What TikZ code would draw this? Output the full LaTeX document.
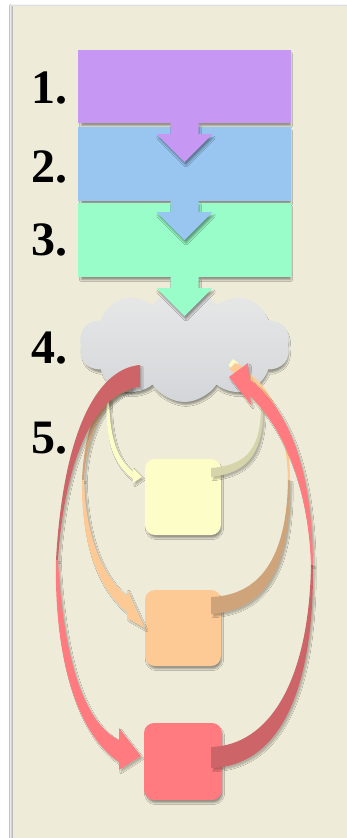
\documentclass[tikz,border=0pt]{standalone}
\usepackage{fontspec}
\setmainfont{Liberation Serif}
\usetikzlibrary{shapes.symbols,shadows.blur,calc}
\definecolor{bgbeige}{HTML}{EEEBD8}
\definecolor{cpurple}{HTML}{C697F3}
\definecolor{cblue}{HTML}{98C6F1}
\definecolor{cgreen}{HTML}{98FDC8}
\definecolor{cyel}{HTML}{FDFDC8}
\definecolor{cyeldk}{HTML}{D6D4AA}
\definecolor{corg}{HTML}{FDCA96}
\definecolor{corgdk}{HTML}{CFA47A}
\definecolor{cred}{HTML}{FF7B7F}
\definecolor{creddk}{HTML}{CC6468}
\definecolor{cloudtop}{HTML}{E8E8E8}
\definecolor{cloudbot}{HTML}{D3D6D9}
\tikzset{
  shd/.style={blur shadow={shadow xshift=1.5pt, shadow yshift=-3.5pt, shadow blur radius=1.8pt, shadow scale=0.985, shadow opacity=38}},
  shdsm/.style={blur shadow={shadow xshift=2pt, shadow yshift=-2.5pt, shadow blur radius=1.2pt, shadow opacity=25}},
  bigbox/.style={rectangle, inner sep=0pt, minimum width=213pt, shd},
  smallbox/.style={rectangle, rounded corners=10pt, inner sep=0pt, minimum width=76pt, minimum height=76pt, shd},
  lbl/.style={anchor=base west, inner sep=0pt, font=\fontsize{48}{48}\selectfont\bfseries},
}
\newcommand\dnarrow[2]{%
  \fill[#2, shd] ($(#1.south)+(-14,0)$) -- ($(#1.south)+(-14,11)$) -- ($(#1.south)+(-28,11)$)
    -- ($(#1.south)+(0,39)$) -- ($(#1.south)+(28,11)$) -- ($(#1.south)+(14,11)$)
    -- ($(#1.south)+(14,0)$) -- cycle;}
\begin{document}
\begin{tikzpicture}[x=1pt,y=-1pt]
\useasboundingbox (0,0) rectangle (347,838);
\fill[white] (0,0) rectangle (347,838);
\fill[bgbeige, blur shadow={shadow xshift=-1.5pt, shadow yshift=0pt, shadow blur radius=2pt, shadow opacity=35}] (13,6) rectangle (352,845);

% stacked boxes
\node[bigbox, fill=cpurple, minimum height=73pt] (b1) at (184.5,86.5) {};
\node[bigbox, fill=cblue, minimum height=74pt] (b2) at (184.5,164) {};
\dnarrow{b1}{cpurple}
\node[bigbox, fill=cgreen, minimum height=74pt] (b3) at (184.5,240) {};
\dnarrow{b2}{cblue}

% cloud
\node[cloud, cloud puffs=10, cloud puff arc=115, aspect=1.85, cloud ignores aspect,
      minimum width=211pt, minimum height=114pt, inner sep=0pt,
      top color=cloudtop, bottom color=cloudbot, shd] (cl) at (184.5,345) {};
\dnarrow{b3}{cgreen}

% labels
\node[lbl] (l1) at (31,103) {1.};
\node[lbl] (l2) at (31,182) {2.};
\node[lbl] (l3) at (31,255) {3.};
\node[lbl] (l4) at (31,363) {4.};
\node[lbl] (l5) at (31,453) {5.};

% small boxes
\node[smallbox, fill=cyel] (y1) at (183,497) {};
\node[smallbox, fill=corg] (o1) at (183,628) {};
\node[smallbox, fill=cred, minimum width=78pt, minimum height=77pt] (r1) at (183,761.5) {};

% orange ribbons
\fill[corgdk, shdsm] (132,373) .. controls (100,385) and (84,430) .. (82,480)
  -- (84,480) .. controls (86,435) and (105,395) .. (132,390) -- cycle;
\fill[corg, shdsm] (82,480) .. controls (81,545) and (98,588) .. (127,612)
  -- (127,618) -- (o1.west) -- (127,589) -- (127,596)
  .. controls (104,578) and (86,540) .. (84,480) -- cycle;
\fill[corgdk, shdsm] ($(o1.east)+(-10,-14)$) .. controls (270,610) and (291,560) .. (290,480)
  -- (288,480) .. controls (287,550) and (265,595) .. ($(o1.east)+(-10,-31)$) -- cycle;
\fill[corg] (288,480) .. controls (287,430) and (272,400) .. (245,382)
  -- (247,372) .. controls (276,392) and (290,430) .. (290,480) -- cycle;

% yellow ribbons
\fill[cyel, shdsm] (107,398) .. controls (105,440) and (112,462) .. (133,479)
  -- (133,483) -- ($(y1.west)+(-3,-20)$) -- (132,467) -- (133,472)
  .. controls (117,458) and (110,440) .. (109,398) -- cycle;
\fill[cyeldk, shdsm] ($(y1.east)+(-10,-20)$) .. controls (252,472) and (263,450) .. (263,405)
  -- (261,405) .. controls (261,445) and (250,465) .. ($(y1.east)+(-10,-29)$) -- cycle;

% red ribbons
\fill[creddk, shdsm] (140,365) .. controls (102,368) and (64,420) .. (56,560)
  -- (58,560) .. controls (66,440) and (104,390) .. (140,387) -- cycle;
\fill[cred, shdsm] (56,560) .. controls (54,660) and (78,735) .. (119,762)
  -- (119,770) -- ($(r1.west)+(-3,-5.5)$) -- (119,728) -- (119,740)
  .. controls (88,725) and (64,670) .. (58,560) -- cycle;
\fill[creddk, shdsm] (313,565) .. controls (314,690) and (280,766) .. ($(r1.east)+(-11,6.5)$)
  -- ($(r1.east)+(-11,-14.5)$) .. controls (270,745) and (309,680) .. (311,565) -- cycle;
% arrow ends at the cloud
\fill[cyel] (228.5,365) -- (233,359) -- (238,363) -- (232,369) -- cycle;
\fill[corg] (229.5,369) -- (235,363) -- (242,366) -- (236,375) -- cycle;
\fill[cred, shdsm] (311,565) .. controls (308,480) and (280,425) .. (250,396)
  -- (251,405) -- (229,377) -- (248,363) -- (249,379)
  .. controls (290,410) and (312,470) .. (313,565) -- cycle;
\end{tikzpicture}
\end{document}
